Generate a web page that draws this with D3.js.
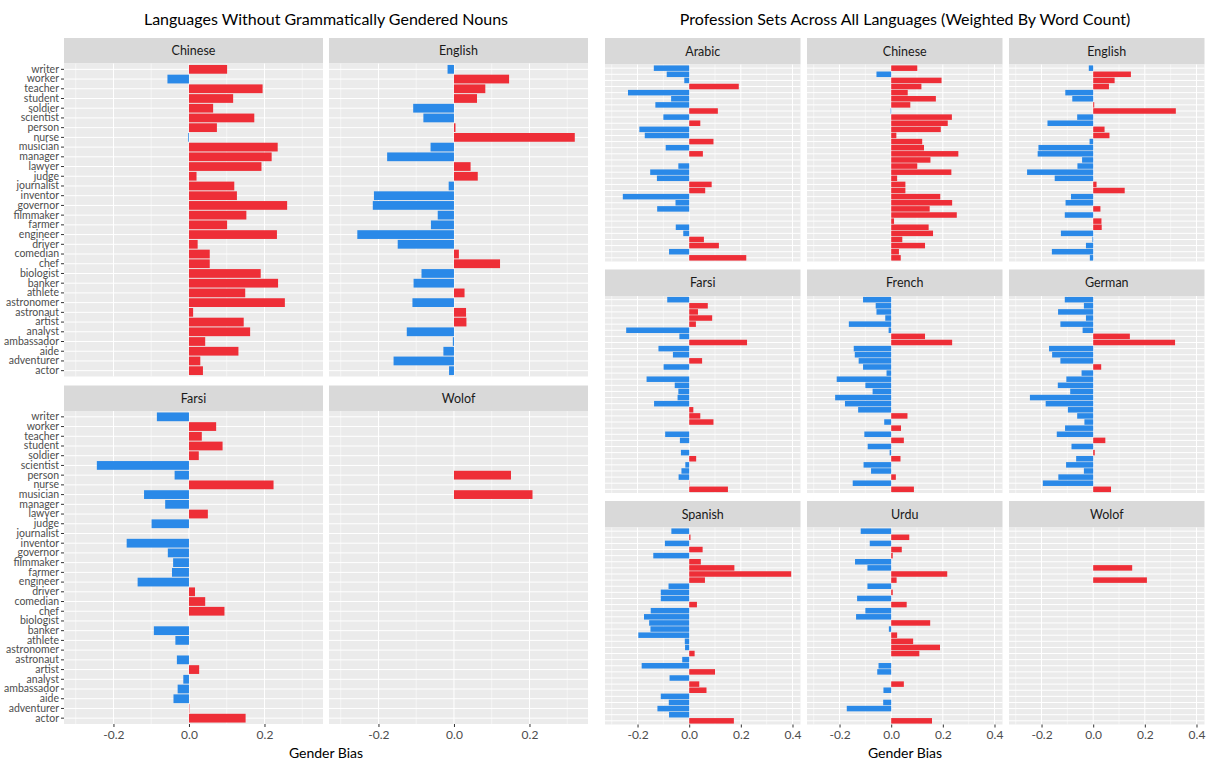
<!DOCTYPE html>
<html>
<head>
<meta charset="utf-8">
<script src="https://cdn.jsdelivr.net/npm/d3@7"></script>
<style>
  body { margin: 0; background: #fff; }
  svg { font-family: Lato, "Open Sans", sans-serif; }
</style>
</head>
<body>
<div id="chart"></div>
<script>
const professions = ['writer', 'worker', 'teacher', 'student', 'soldier', 'scientist', 'person', 'nurse',
  'musician', 'manager', 'lawyer', 'judge', 'journalist', 'inventor', 'governor', 'filmmaker',
  'farmer', 'engineer', 'driver', 'comedian', 'chef', 'biologist', 'banker', 'athlete',
  'astronomer', 'astronaut', 'artist', 'analyst', 'ambassador', 'aide', 'adventurer', 'actor'];

const chinese = [0.101, -0.057, 0.195, 0.117, 0.064, 0.173, 0.074, -0.002,
  0.235, 0.219, 0.192, 0.020, 0.120, 0.127, 0.260, 0.152,
  0.101, 0.233, 0.023, 0.055, 0.055, 0.190, 0.236, 0.149,
  0.254, 0.011, 0.145, 0.162, 0.043, 0.131, 0.030, 0.037];
const english = [-0.017, 0.146, 0.083, 0.061, -0.108, -0.081, 0.004, 0.320,
  -0.062, -0.177, 0.044, 0.063, -0.014, -0.212, -0.215, -0.043,
  -0.061, -0.256, -0.149, 0.013, 0.122, -0.086, -0.107, 0.028,
  -0.110, 0.032, 0.033, -0.125, -0.003, -0.028, -0.160, -0.013];
const farsi = [-0.085, 0.072, 0.034, 0.089, 0.026, -0.244, -0.038, 0.224,
  -0.119, -0.063, 0.050, -0.099, null, -0.165, -0.056, -0.042,
  -0.045, -0.136, 0.016, 0.043, 0.094, null, -0.093, -0.036,
  null, -0.032, 0.027, -0.015, -0.030, -0.041, 0.001, 0.150];
const wolof = [null, null, null, null, null, null, 0.151, null,
  0.208, null, null, null, null, null, null, null,
  null, null, null, null, null, null, null, null,
  null, null, null, null, null, null, null, null];
const arabic = [-0.137, -0.087, -0.019, 0.192, -0.237, -0.070, -0.131, 0.111,
  -0.100, 0.043, -0.193, -0.172, 0.094, -0.091, 0.053, null,
  -0.042, -0.151, -0.125, 0.087, 0.062, -0.257, -0.053, -0.124,
  null, null, -0.052, -0.023, 0.057, 0.115, -0.078, 0.221];
const french = [-0.109, -0.060, -0.057, -0.023, -0.164, -0.010, 0.131, 0.236,
  -0.145, -0.141, -0.126, -0.109, -0.018, -0.211, -0.100, -0.072,
  -0.217, -0.179, -0.128, 0.063, -0.027, 0.038, -0.104, 0.049,
  -0.091, -0.006, 0.036, -0.107, -0.078, 0.018, -0.149, 0.088];
const german = [-0.110, -0.036, -0.136, -0.028, -0.127, -0.041, 0.142, 0.317,
  -0.171, -0.159, -0.127, 0.031, -0.045, -0.104, -0.137, -0.089,
  -0.245, -0.184, -0.098, -0.062, -0.034, -0.109, -0.141, 0.047,
  -0.084, 0.006, -0.066, -0.105, -0.036, -0.135, -0.195, 0.069];
const spanish = [-0.069, 0.005, -0.094, 0.052, -0.139, 0.045, 0.175, 0.395,
  0.061, -0.080, -0.110, -0.110, 0.030, -0.149, -0.175, -0.155,
  -0.150, -0.197, -0.017, -0.016, 0.021, -0.027, -0.184, 0.100,
  -0.076, 0.039, 0.067, -0.110, -0.079, -0.123, -0.078, 0.173];
const urdu = [-0.118, 0.070, -0.083, 0.041, 0.006, -0.140, -0.092, 0.217,
  0.021, -0.092, 0.006, -0.132, 0.060, -0.100, -0.136, 0.151,
  -0.009, 0.023, 0.085, 0.189, 0.109, null, -0.049, -0.054,
  null, 0.049, -0.030, null, -0.031, -0.172, null, 0.158];

const leftFacets = [['Chinese', chinese], ['English', english], ['Farsi', farsi], ['Wolof', wolof]];
const rightFacets = [['Arabic', arabic], ['Chinese', chinese], ['English', english],
  ['Farsi', farsi], ['French', french], ['German', german],
  ['Spanish', spanish], ['Urdu', urdu], ['Wolof', wolof]];

const leftTicks = [-0.2, 0, 0.2];
const rightTicks = [-0.2, 0, 0.2, 0.4];
const minorTicks = [-0.3, -0.1, 0.1, 0.3];

const red = '#ee2e37',
  blue = '#2a89e8';

const svg = d3.select('#chart').append('svg')
    .attr('width', 1210)
    .attr('height', 762);

function drawGrid(o) {
  const x = d3.scaleLinear().domain(o.domain).range([0, o.colW]);
  const y = d3.scaleBand()
      .domain(professions)
      .range([0, o.panelH])
      .paddingInner(0.1)
      .paddingOuter(0.15);
  const nrow = Math.ceil(o.facets.length / o.ncol);

  o.facets.forEach(([name, values], i) => {
    const col = i % o.ncol,
      row = Math.floor(i / o.ncol);
    const g = svg.append('g')
        .attr('transform', `translate(${o.x0 + col * (o.colW + o.colGap)},${o.top + row * (o.stripH + o.panelH + o.rowGap)})`);

    g.append('rect')
        .attr('width', o.colW)
        .attr('height', o.stripH)
        .attr('fill', '#d9d9d9');
    g.append('text')
        .attr('x', o.colW / 2)
        .attr('y', o.stripH / 2 + 4.5)
        .attr('text-anchor', 'middle')
        .attr('font-size', 12.5)
        .attr('fill', '#1a1a1a')
        .text(name);

    const p = g.append('g').attr('transform', `translate(0,${o.stripH})`);
    p.append('rect')
        .attr('width', o.colW)
        .attr('height', o.panelH)
        .attr('fill', '#ebebeb');

    p.selectAll('.minor')
        .data(minorTicks.filter((d) => d > o.domain[0] && d < o.domain[1]))
      .enter().append('line')
        .attr('x1', (d) => x(d)).attr('x2', (d) => x(d))
        .attr('y1', 0).attr('y2', o.panelH)
        .attr('stroke', '#fff')
        .attr('stroke-width', 0.5);
    p.selectAll('.major')
        .data(o.ticks)
      .enter().append('line')
        .attr('x1', (d) => x(d)).attr('x2', (d) => x(d))
        .attr('y1', 0).attr('y2', o.panelH)
        .attr('stroke', '#fff')
        .attr('stroke-width', 1);
    p.selectAll('.hgrid')
        .data(professions)
      .enter().append('line')
        .attr('x1', 0).attr('x2', o.colW)
        .attr('y1', (d) => y(d) + y.bandwidth() / 2)
        .attr('y2', (d) => y(d) + y.bandwidth() / 2)
        .attr('stroke', '#fff')
        .attr('stroke-width', 1);

    const rows = professions.map((d, j) => ({ name: d, v: values[j] })).filter((d) => d.v !== null);
    p.selectAll('.bar')
        .data(rows)
      .enter().append('rect')
        .attr('x', (d) => Math.min(x(0), x(d.v)))
        .attr('y', (d) => y(d.name))
        .attr('width', (d) => Math.abs(x(d.v) - x(0)))
        .attr('height', y.bandwidth())
        .attr('fill', (d) => (d.v < 0 ? blue : red));

    if (o.showY && col === 0) {
      const ax = p.append('g').call(d3.axisLeft(y).tickSize(3).tickPadding(2));
      ax.select('.domain').remove();
      ax.selectAll('line').attr('stroke', '#333');
      ax.selectAll('text')
          .attr('fill', '#4d4d4d')
          .attr('font-size', 10.5)
          .attr('font-family', 'Lato, sans-serif');
    }
    if (row === nrow - 1) {
      const ax = p.append('g')
          .attr('transform', `translate(0,${o.panelH})`)
          .call(d3.axisBottom(x).tickValues(o.ticks).tickFormat((d) => d.toFixed(1)).tickSize(3).tickPadding(3));
      ax.select('.domain').remove();
      ax.selectAll('line').attr('stroke', '#333');
      ax.selectAll('text')
          .attr('fill', '#4d4d4d')
          .attr('font-size', 12)
          .attr('font-family', 'Lato, sans-serif');
    }
  });
}

drawGrid({
  facets: leftFacets, ncol: 2, x0: 64, colW: 259, colGap: 6,
  top: 38, stripH: 25.5, panelH: 313, rowGap: 9,
  domain: [-0.331, 0.355], ticks: leftTicks, showY: true,
});
drawGrid({
  facets: rightFacets, ncol: 3, x0: 605, colW: 195.5, colGap: 6.5,
  top: 38, stripH: 26.5, panelH: 197, rowGap: 8,
  domain: [-0.326, 0.431], ticks: rightTicks, showY: false,
});

// Titles and axis labels.
const titles = [
  { x: 326, y: 25, size: 16, text: 'Languages Without Grammatically Gendered Nouns' },
  { x: 905, y: 25, size: 16, text: 'Profession Sets Across All Languages (Weighted By Word Count)' },
  { x: 326, y: 758, size: 14, text: 'Gender Bias' },
  { x: 905, y: 758, size: 14, text: 'Gender Bias' },
];
svg.selectAll('.title')
    .data(titles)
  .enter().append('text')
    .attr('x', (d) => d.x)
    .attr('y', (d) => d.y)
    .attr('text-anchor', 'middle')
    .attr('font-size', (d) => d.size)
    .attr('fill', '#000')
    .text((d) => d.text);
</script>
</body>
</html>
